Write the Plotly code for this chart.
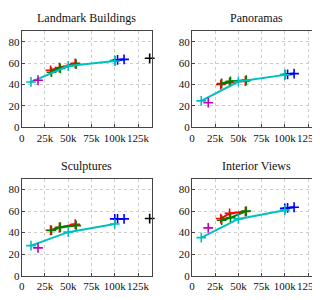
import plotly.graph_objects as go

titles = ["Landmark Buildings", "Panoramas", "Sculptures", "Interior Views"]

x_cyan = [10000, 50000, 100000]
x_red = [31000, 40500, 57500]
x_green = [32000, 41500, 58500]
x_blue = [100000, 103000, 110000]
x_magenta = [17500]
x_black = [137500]

y_cyan = [[42.4, 57.3, 62.0], [24.7, 42.8, 49.0], [27.9, 40.4, 48.0], [35.3, 52.7, 60.8]]
y_red = [[53.3, 55.8, 59.8], [40.0, 42.0, 43.3], [42.2, 44.7, 47.8], [53.0, 57.8, 59.5]]
y_green = [[51.5, 55.0, 59.0], [41.0, 43.0, 44.0], [42.0, 45.0, 46.5], [51.5, 53.7, 60.0]]
y_blue = [[62.3, 63.0, 63.5], [49.3, 49.5, 50.2], [52.7, 52.7, 52.7], [62.5, 63.0, 63.5]]
y_magenta = [[44.0], [23.0], [25.8], [44.4]]
y_black = [[64.5], [52.0], [53.0], [65.0]]

x_ticks = [0, 25000, 50000, 75000, 100000, 125000]
x_ticklabels = ["0", "25k", "50k", "75k", "100k", "125k"]
y_ticks = [0, 20, 40, 60, 80]

colors = {"red": "#FF0000", "green": "#008000", "blue": "#0000FF",
          "cyan": "#00BFBF", "magenta": "#BF00BF", "black": "#000000"}

xdom = [[0.0428, 0.45], [0.575, 0.981], [0.0428, 0.45], [0.575, 0.981]]
ydom = [[0.6023, 0.9233], [0.6023, 0.9233], [0.1077, 0.431], [0.1077, 0.431]]
title_y = [0.9667, 0.9667, 0.4733, 0.4733]

fig = go.Figure()
font = "Liberation Serif, Times New Roman, serif"

for i in range(4):
    xa = "x" if i == 0 else f"x{i+1}"
    ya = "y" if i == 0 else f"y{i+1}"
    series = [
        (x_red, y_red[i], "red", True),
        (x_green, y_green[i], "green", True),
        (x_blue, y_blue[i], "blue", True),
        (x_cyan, y_cyan[i], "cyan", True),
        (x_magenta, y_magenta[i], "magenta", False),
        (x_black, y_black[i], "black", False),
    ]
    for xs, ys, c, ln in series:
        fig.add_trace(go.Scatter(
            x=xs, y=ys, xaxis=xa, yaxis=ya,
            mode="lines+markers" if ln else "markers",
            line=dict(color=colors[c], width=2),
            marker=dict(symbol="cross-thin", size=7,
                        line=dict(color=colors[c], width=1.6)),
            showlegend=False, cliponaxis=False))
    axcommon = dict(showline=True, mirror=True, linecolor="#444444", linewidth=1,
                    ticks="inside", ticklen=3, tickcolor="#444444",
                    showgrid=True, gridcolor="#cccccc", griddash="dot", gridwidth=1,
                    zeroline=False, tickangle=0, automargin=False,
                    tickfont=dict(family=font, size=11, color="#111111"))
    fig.layout[f"xaxis{'' if i == 0 else i+1}"] = dict(
        domain=xdom[i], anchor=ya, range=[0, 140000],
        tickvals=x_ticks, ticktext=x_ticklabels, **axcommon)
    fig.layout[f"yaxis{'' if i == 0 else i+1}"] = dict(
        domain=ydom[i], anchor=xa, range=[0, 90], ticklabelstandoff=-1,
        tickvals=y_ticks, **axcommon)
    fig.add_annotation(text=titles[i], x=sum(xdom[i]) / 2, y=title_y[i],
                       xref="paper", yref="paper", xanchor="center", yanchor="middle",
                       showarrow=False, font=dict(family=font, size=12, color="#111111"))

fig.update_layout(width=320, height=300, margin=dict(l=0, r=0, t=0, b=0),
                  paper_bgcolor="white", plot_bgcolor="white")
fig.write_html("out.html")
